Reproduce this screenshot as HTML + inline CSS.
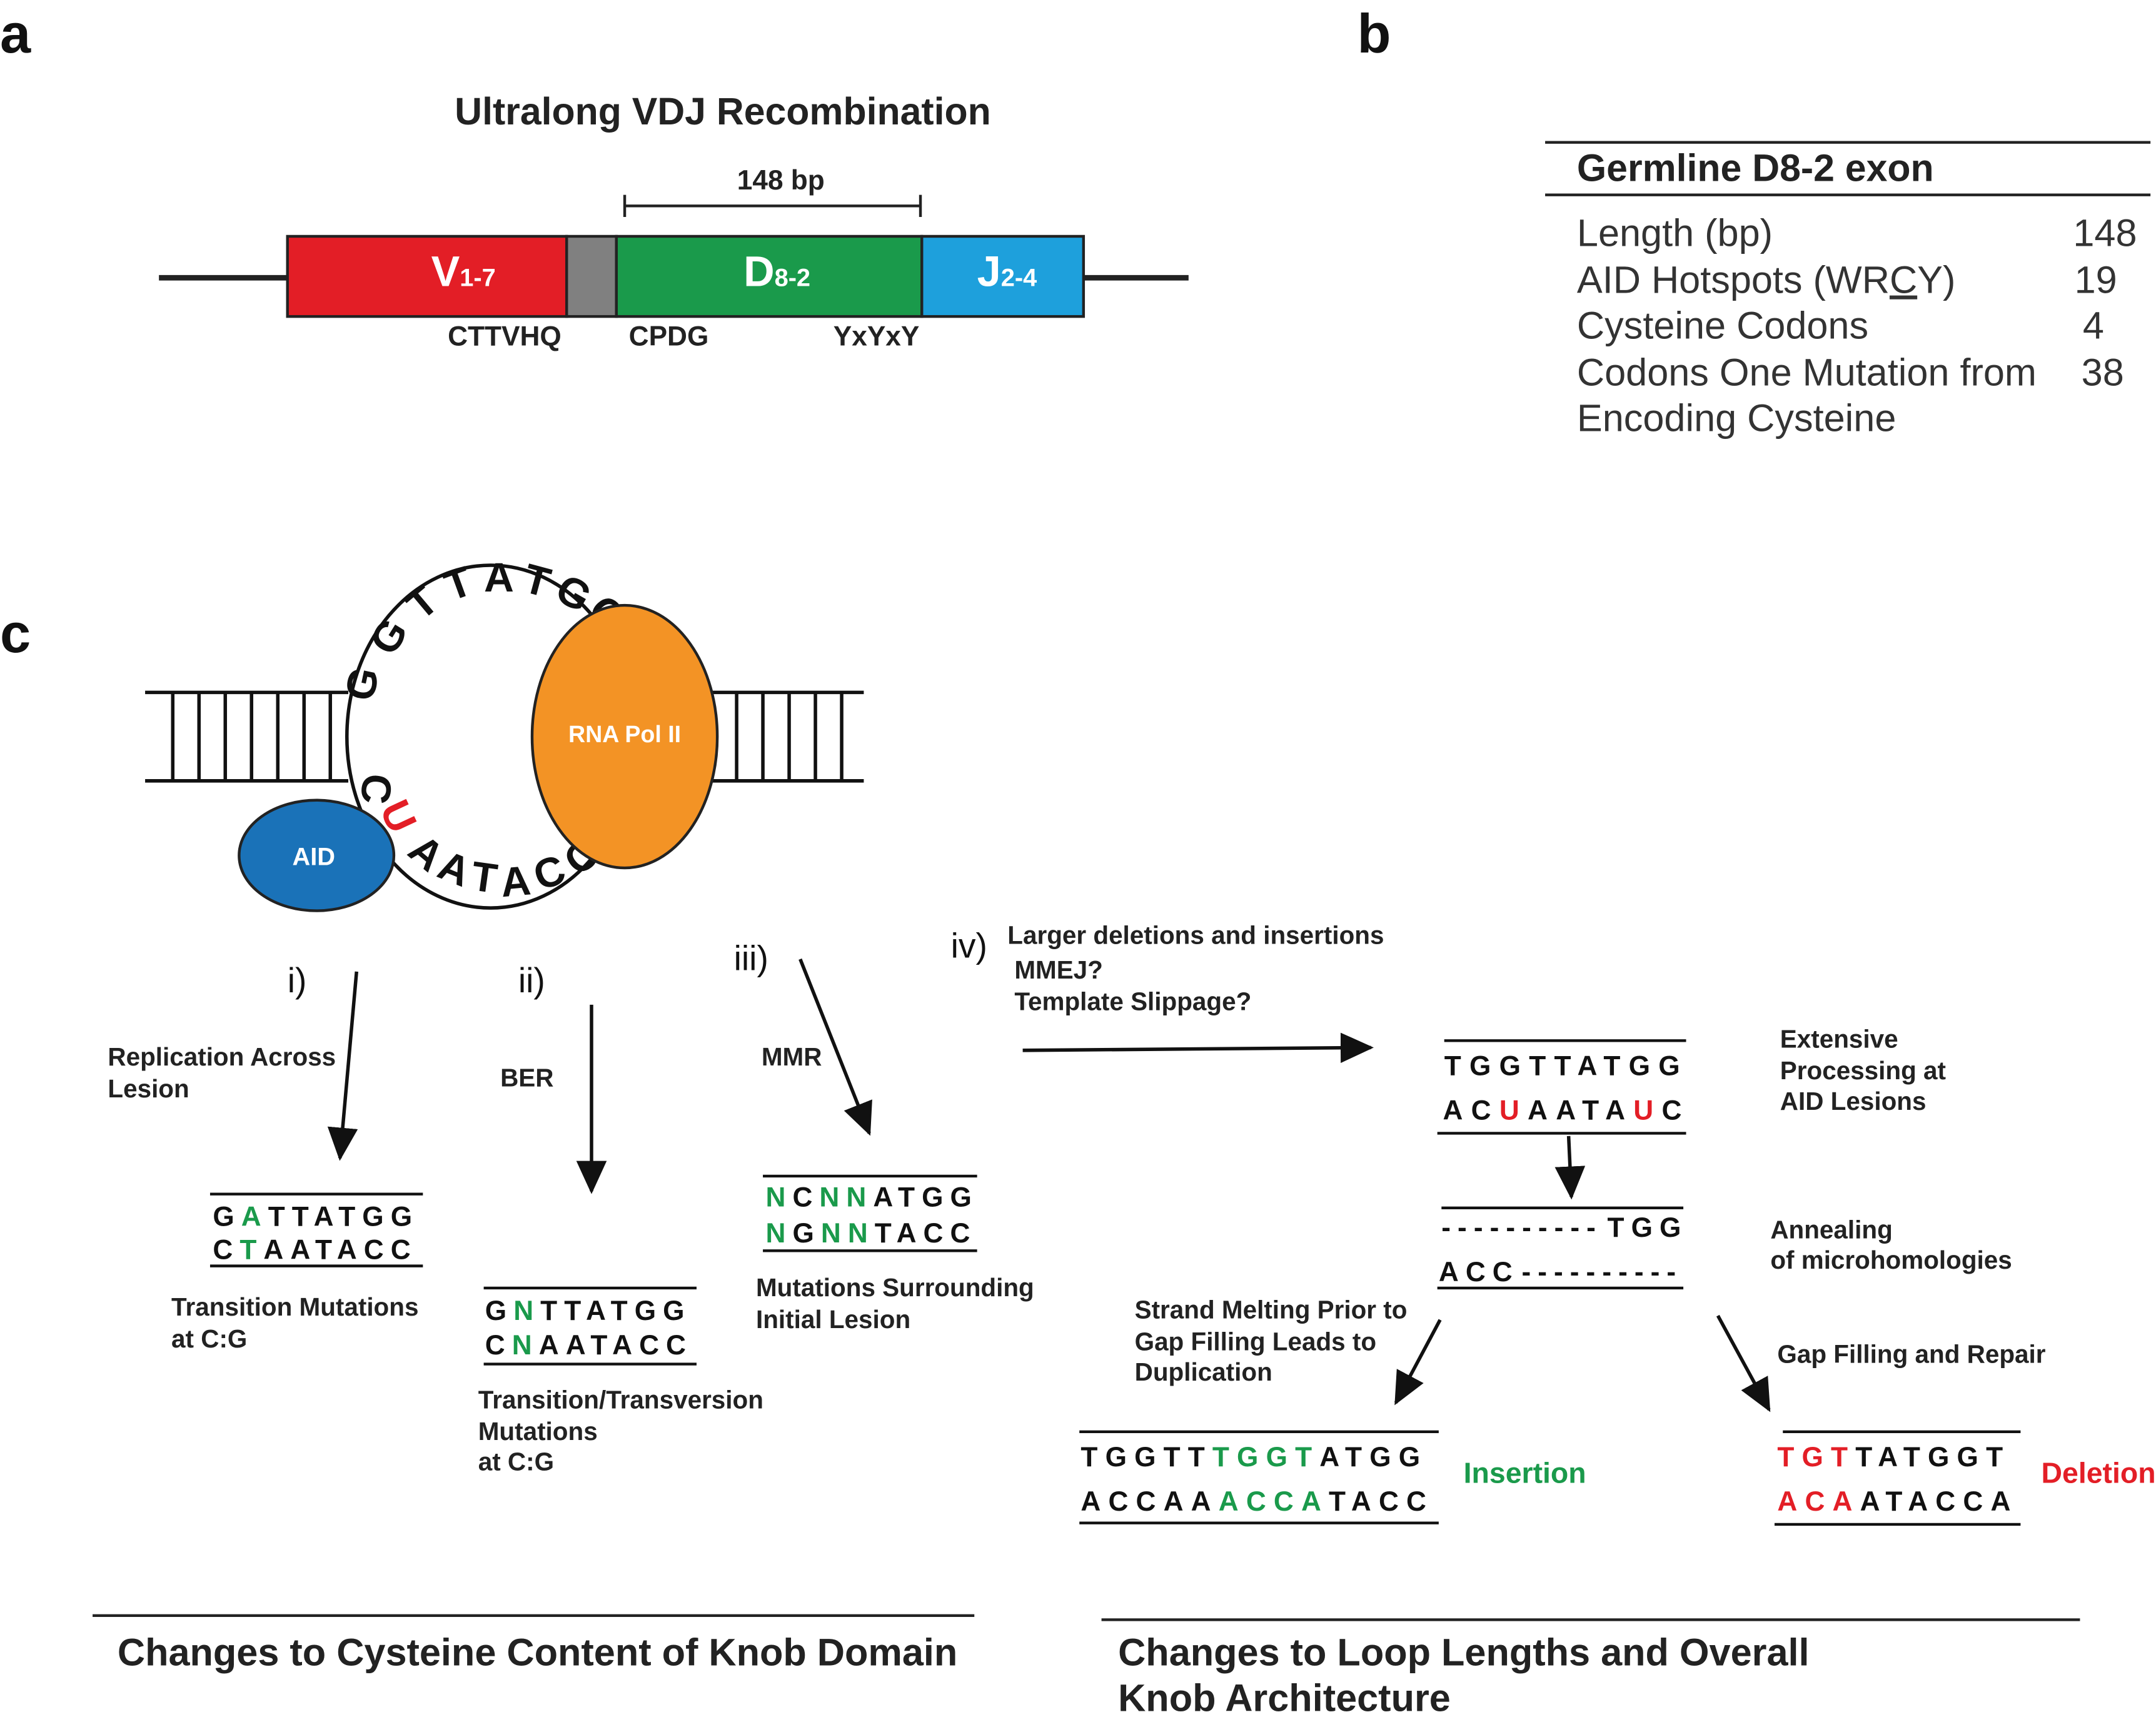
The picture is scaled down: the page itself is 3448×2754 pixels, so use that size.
<!DOCTYPE html>
<html><head><meta charset="utf-8"><style>html,body{margin:0;padding:0;background:#fff}svg{display:block}</style></head>
<body>
<svg width="3448" height="2754" viewBox="0 0 1560 1246" preserveAspectRatio="none" xmlns="http://www.w3.org/2000/svg" font-family="Liberation Sans, Arial, sans-serif">
<defs>
<marker id="ah2" markerWidth="24" markerHeight="22" refX="22" refY="11" orient="auto" markerUnits="userSpaceOnUse"><path d="M0,0 L24,11 L0,22z" fill="#111"/></marker></defs>
<g fill="#111">
<text x="0" y="38" font-size="40" font-weight="bold">a</text>
<text x="982" y="38" font-size="40" font-weight="bold">b</text>
<text x="0" y="472" font-size="40" font-weight="bold">c</text>
</g>
<!-- panel a -->
<text x="523" y="90" font-size="27.5" font-weight="bold" text-anchor="middle" fill="#222">Ultralong VDJ Recombination</text>
<text x="565" y="137" font-size="20" font-weight="bold" text-anchor="middle" fill="#222">148 bp</text>
<path d="M452 149 H666 M452 141 V157 M666 141 V157" stroke="#222" stroke-width="2"/>
<path d="M115 201 H208 M784 201 H860" stroke="#222" stroke-width="4"/>
<rect x="208" y="171" width="202" height="58" fill="#e31e26" stroke="#222" stroke-width="2"/>
<rect x="410" y="171" width="36" height="58" fill="#808080" stroke="#222" stroke-width="2"/>
<rect x="446" y="171" width="221" height="58" fill="#1a9a4b" stroke="#222" stroke-width="2"/>
<rect x="667" y="171" width="117" height="58" fill="#1ea0dc" stroke="#222" stroke-width="2"/>
<g fill="#fff" font-weight="bold"><text x="312" y="207" font-size="31">V<tspan font-size="18">1-7</tspan></text>
<text x="538" y="207" font-size="31">D<tspan font-size="18">8-2</tspan></text>
<text x="707" y="207" font-size="31">J<tspan font-size="18">2-4</tspan></text></g>
<g font-size="20" font-weight="bold" fill="#222"><text x="324" y="250">CTTVHQ</text><text x="455" y="250">CPDG</text><text x="603" y="250">YxYxY</text></g>
<!-- panel b -->
<path d="M1118 103 H1556 M1118 141 H1556" stroke="#222" stroke-width="2"/>
<text x="1141" y="131" font-size="27.5" font-weight="bold" fill="#222">Germline D8-2 exon</text>
<g font-size="27.7" fill="#333">
<text x="1141" y="178">Length (bp)</text><text x="1500" y="178">148</text>
<text x="1141" y="212">AID Hotspots (WR<tspan text-decoration="underline">C</tspan>Y)</text><text x="1501" y="212">19</text>
<text x="1141" y="245">Cysteine Codons</text><text x="1507" y="245">4</text>
<text x="1141" y="279">Codons One Mutation from</text><text x="1506" y="279">38</text>
<text x="1141" y="312">Encoding Cysteine</text>
</g>
<!-- panel c diagram -->
<g stroke="#111" stroke-width="2.5" fill="none">
<path d="M105 501 H252 M105 565 H252 M515 501 H625 M515 565 H625"/>
<path d="M125 501V565 M144 501V565 M163 501V565 M182 501V565 M201 501V565 M220 501V565 M239 501V565 M533 501V565 M552 501V565 M571 501V565 M590 501V565 M609 501V565"/>
<ellipse cx="355" cy="533" rx="104" ry="124" fill="#fff"/>
</g>
<g font-size="30" font-weight="bold" fill="#111" text-anchor="middle">
<text transform="translate(272,497) rotate(-78)">G</text>
<text transform="translate(290,466) rotate(-58)">G</text>
<text transform="translate(312,444) rotate(-40)">T</text>
<text transform="translate(335,432) rotate(-20)">T</text>
<text transform="translate(361,428) rotate(0)">A</text>
<text transform="translate(386,430) rotate(15)">T</text>
<text transform="translate(410,438) rotate(30)">G</text>
<text transform="translate(432,451) rotate(48)">G</text>
<text transform="translate(262,570) rotate(95)">C</text>
<text transform="translate(279,595) rotate(65)" fill="#e31e26">U</text>
<text transform="translate(302,625) rotate(40)">A</text>
<text transform="translate(325,638) rotate(22)">A</text>
<text transform="translate(349,645) rotate(8)">T</text>
<text transform="translate(374,648) rotate(-5)">A</text>
<text transform="translate(401,641) rotate(-20)">C</text>
<text transform="translate(427,628) rotate(-38)">C</text>
</g>
<ellipse cx="229" cy="619" rx="56" ry="40" fill="#1a72b8" stroke="#222" stroke-width="2"/>
<text x="227" y="626" font-size="18" font-weight="bold" fill="#fff" text-anchor="middle">AID</text>
<ellipse cx="452" cy="533" rx="67" ry="95" fill="#f39325" stroke="#222" stroke-width="2"/>
<text x="452" y="537" font-size="17" font-weight="bold" fill="#fff" text-anchor="middle">RNA Pol II</text>
<!-- labels -->
<g font-size="25" fill="#111"><text x="208" y="718">i)</text><text x="375" y="718">ii)</text><text x="531" y="702">iii)</text><text x="688" y="693">iv)</text></g>
<g font-size="18.3" font-weight="bold" fill="#222">
<text x="78" y="771">Replication Across</text><text x="78" y="794">Lesion</text>
<text x="362" y="786">BER</text><text x="551" y="771">MMR</text>
<text x="729" y="683">Larger deletions and insertions</text><text x="734" y="708">MMEJ?</text><text x="734" y="731">Template Slippage?</text>
<text x="124" y="952">Transition Mutations</text><text x="124" y="975">at C:G</text>
<text x="346" y="1019">Transition/Transversion</text><text x="346" y="1042">Mutations</text><text x="346" y="1064">at C:G</text>
<text x="547" y="938">Mutations Surrounding</text><text x="547" y="961">Initial Lesion</text>
<text x="1288" y="758">Extensive</text><text x="1288" y="781">Processing at</text><text x="1288" y="803">AID Lesions</text>
<text x="1281" y="896">Annealing</text><text x="1281" y="918">of microhomologies</text>
<text x="821" y="954">Strand Melting Prior to</text><text x="821" y="977">Gap Filling Leads to</text><text x="821" y="999">Duplication</text>
<text x="1286" y="986">Gap Filling and Repair</text>
<text x="1059" y="1073" font-size="21" fill="#1a9a4b">Insertion</text>
<text x="1477" y="1073" font-size="21" fill="#e31e26">Deletion</text>
</g>
<!-- arrows -->
<g stroke="#111" stroke-width="2.5" fill="none" marker-end="url(#ah2)">
<path d="M258 703 L246 838"/><path d="M428 727 V862"/><path d="M579 694 L629 820"/>
<path d="M740 760 L992 758"/><path d="M1135 822 L1137 866"/>
<path d="M1042 955 L1010 1015"/><path d="M1243 952 L1280 1020"/>
</g>
<!-- sequences -->
<g stroke="#111" stroke-width="2" fill="none">
<path d="M152 864 H306 M152 916 H306 M350 932 H504 M350 987 H504 M552 851 H707 M552 905 H707 M1045 753 H1220 M1040 820 H1220 M1043 874 H1218 M1040 932 H1218 M781 1036 H1041 M781 1102 H1041 M1290 1036 H1462 M1284 1103 H1462"/>
</g>
<g font-size="20" font-weight="bold" fill="#111" letter-spacing="5">
<text x="154" y="887">G<tspan fill="#1a9a4b">A</tspan>TTATGG</text>
<text x="154" y="911">C<tspan fill="#1a9a4b">T</tspan>AATACC</text>
<text x="351" y="955">G<tspan fill="#1a9a4b">N</tspan>TTATGG</text>
<text x="351" y="980">C<tspan fill="#1a9a4b">N</tspan>AATACC</text>
<text x="554" y="873"><tspan fill="#1a9a4b">N</tspan>C<tspan fill="#1a9a4b">NN</tspan>ATGG</text>
<text x="554" y="899"><tspan fill="#1a9a4b">N</tspan>G<tspan fill="#1a9a4b">NN</tspan>TACC</text>
<text x="1045" y="778" letter-spacing="6">TGGTTATGG</text>
<text x="1044" y="810" letter-spacing="6">AC<tspan fill="#e31e26">U</tspan>AATA<tspan fill="#e31e26">U</tspan>C</text>
<text x="1043" y="895" letter-spacing="5">----------</text>
<text x="1163" y="895" letter-spacing="5">TGG</text>
<text x="1041" y="927" letter-spacing="5">ACC</text>
<text x="1101" y="927" letter-spacing="5">----------</text>
<text x="782" y="1061" letter-spacing="5.5">TGGTT<tspan fill="#1a9a4b">TGGT</tspan>ATGG</text>
<text x="782" y="1093" letter-spacing="5.5">ACCAA<tspan fill="#1a9a4b">ACCA</tspan>TACC</text>
<text x="1286" y="1061" letter-spacing="5.5"><tspan fill="#e31e26">TGT</tspan>TATGGT</text>
<text x="1286" y="1093" letter-spacing="5.5"><tspan fill="#e31e26">ACA</tspan>ATACCA</text>
</g>
<!-- bottom -->
<path d="M67 1169 H705 M797 1172 H1505" stroke="#222" stroke-width="2"/>
<g font-size="27.7" font-weight="bold" fill="#222">
<text x="85" y="1205">Changes to Cysteine Content of Knob Domain</text>
<text x="809" y="1205">Changes to Loop Lengths and Overall</text>
<text x="809" y="1238">Knob Architecture</text>
</g>
</svg>
</body></html>
